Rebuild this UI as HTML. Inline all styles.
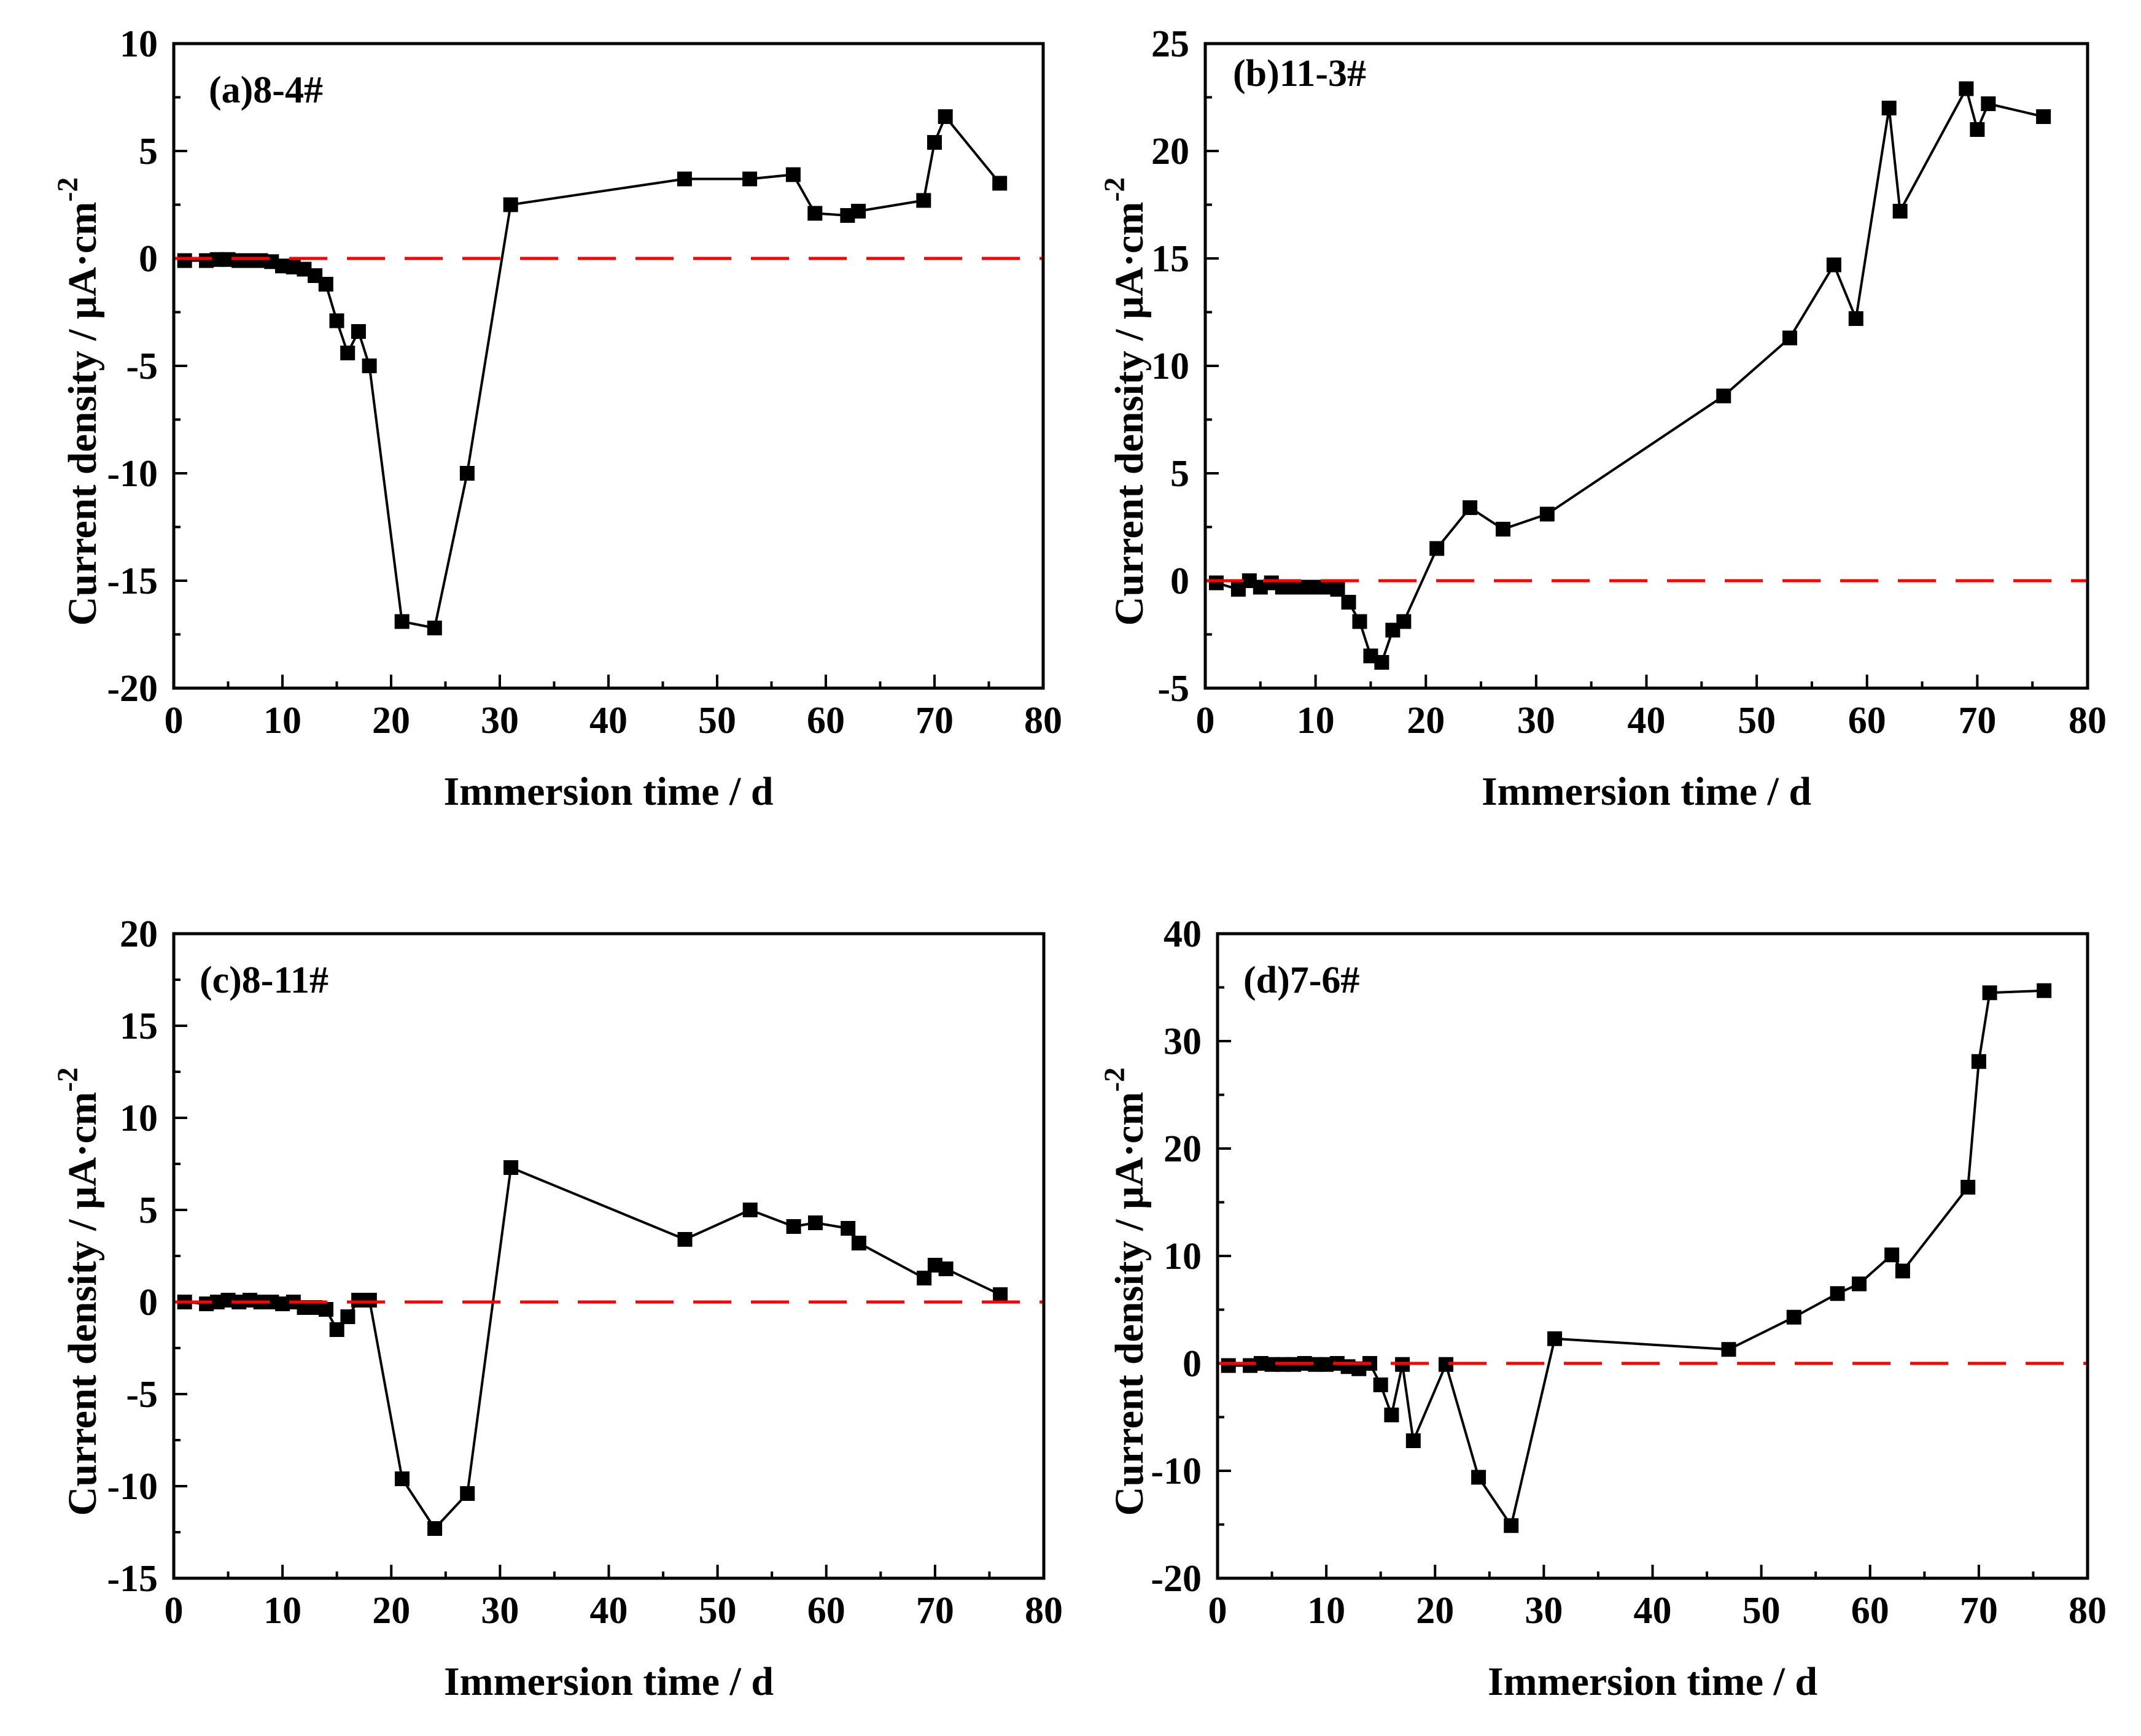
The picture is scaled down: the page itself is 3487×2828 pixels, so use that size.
<!DOCTYPE html>
<html><head><meta charset="utf-8">
<style>
html,body{margin:0;padding:0;background:#fff;}
svg{display:block;}
text{font-family:"Liberation Serif","Times New Roman",serif;font-weight:bold;fill:#000;}
</style></head>
<body>
<svg id="fig" width="3487" height="2828" viewBox="0 0 3487 2828" xmlns="http://www.w3.org/2000/svg">
<rect width="3487" height="2828" fill="#fff"/>
</svg>
<script>
const days = [1,3,4,5,6,7,8,9,10,11,12,13,14,15,16,17,18,21,24,27,31,47,53,57,59,62,63,69,70,71,76];
const seriesA = [-0.1,-0.1,-0.05,-0.05,-0.1,-0.1,-0.1,-0.15,-0.35,-0.4,-0.5,-0.8,-1.2,-2.9,-4.4,-3.4,-5.0,-16.9,-17.2,-10,2.5,3.7,3.7,3.9,2.1,2.0,2.2,2.7,5.4,6.6,3.5];
const seriesB = [-0.1,-0.4,0.0,-0.3,-0.1,-0.3,-0.3,-0.3,-0.3,-0.3,-0.4,-1.0,-1.9,-3.5,-3.8,-2.3,-1.9,1.5,3.4,2.4,3.1,8.6,11.3,14.7,12.2,22.0,17.2,22.9,21.0,22.2,21.6];
const seriesC = [0,-0.1,0,0.1,0,0.1,0,0,-0.1,0,-0.3,-0.3,-0.4,-1.5,-0.8,0.1,0.1,-9.6,-12.3,-10.4,7.3,3.4,5.0,4.1,4.3,4.0,3.2,1.3,2.0,1.8,0.4];
const seriesD = [-0.2,-0.2,0,-0.1,-0.1,-0.1,0,-0.1,-0.1,0,-0.3,-0.5,0,-2,-4.8,-0.1,-7.2,-0.1,-10.6,-15.1,2.3,1.3,4.3,6.5,7.4,10.1,8.6,16.4,28.1,34.5,34.7];
const xTicks = [0,10,20,30,40,50,60,70,80];
const yTicksA = [-20,-15,-10,-5,0,5,10];
const yTicksB = [-5,0,5,10,15,20,25];
const yTicksC = [-15,-10,-5,0,5,10,15,20];
const yTicksD = [-20,-10,0,10,20,30,40];
const labels = ["(a)8-4#","(b)11-3#","(c)8-11#","(d)7-6#"];

const panels = [
 {id:'a', L:283, R:1699, T:71, B:1121, ymin:-20, ymax:10, ticks:yTicksA, data:seriesA, label:labels[0], ytx:134, lx:340, ly:167},
 {id:'b', L:1963, R:3400, T:71, B:1121, ymin:-5, ymax:25, ticks:yTicksB, data:seriesB, label:labels[1], ytx:1839, lx:2008, ly:140},
 {id:'c', L:283, R:1700, T:1521, B:2571, ymin:-15, ymax:20, ticks:yTicksC, data:seriesC, label:labels[2], ytx:134, lx:325, ly:1617},
 {id:'d', L:1983, R:3400, T:1521, B:2571, ymin:-20, ymax:40, ticks:yTicksD, data:seriesD, label:labels[3], ytx:1839, lx:2025, ly:1617}
];
const NS='http://www.w3.org/2000/svg';
const svg=document.getElementById('fig');
function mk(tag, attrs, parent){const e=document.createElementNS(NS,tag);for(const k in attrs)e.setAttribute(k,attrs[k]);parent.appendChild(e);return e;}

panels.forEach(p=>{
 const g=mk('g',{},svg);
 
 
 const xs=v=>p.L+(v-0)/(80-0)*(p.R-p.L);
 const ys=v=>p.B-(v-p.ymin)/(p.ymax-p.ymin)*(p.B-p.T);
 xTicks.forEach((t,i)=>{
  const tk=mk('line',{x1:xs(t),x2:xs(t),y1:p.B,y2:p.B-22,stroke:'#000','stroke-width':4},g);
  
  
  if(i<xTicks.length-1){
   const m=(t+xTicks[i+1])/2;
   const mt=mk('line',{x1:xs(m),x2:xs(m),y1:p.B,y2:p.B-11,stroke:'#000','stroke-width':4},g);
   
   
  }
  const tl=mk('text',{x:xs(t),y:p.B+73,'font-size':62,'text-anchor':'middle'},g);
  tl.textContent=t;
  
  
 });
 p.ticks.forEach((t,i)=>{
  const tk=mk('line',{x1:p.L,x2:p.L+22,y1:ys(t),y2:ys(t),stroke:'#000','stroke-width':4},g);
  
  
  if(i<p.ticks.length-1){
   const m=(t+p.ticks[i+1])/2;
   const mt=mk('line',{x1:p.L,x2:p.L+11,y1:ys(m),y2:ys(m),stroke:'#000','stroke-width':4},g);
   
   
  }
  const tl=mk('text',{x:p.L-26,y:ys(t)+21,'font-size':62,'text-anchor':'end'},g);
  tl.textContent=t;
  
  
 });
 const pts=days.map((d,i)=>xs(d)+','+ys(p.data[i])).join(' ');
 const pl=mk('polyline',{points:pts,fill:'none',stroke:'#000','stroke-width':4},g);
 
 
 days.forEach((d,i)=>{
  const r=mk('rect',{x:xs(d)-12,y:ys(p.data[i])-12,width:24,height:24,fill:'#000'},g);
  
  
 });
 const z=mk('line',{x1:p.L,x2:p.R,y1:ys(0),y2:ys(0),stroke:'#ff0000','stroke-width':5,'stroke-dasharray':'62 32'},g);
 
 
 const fr=mk('rect',{x:p.L,y:p.T,width:p.R-p.L,height:p.B-p.T,fill:'none',stroke:'#000','stroke-width':5},g);
 
 
 const lb=mk('text',{x:p.lx,y:p.ly,'font-size':62},g);
 lb.textContent=p.label;
 
 
 const xt=mk('text',{x:(p.L+p.R)/2,y:p.B+190,'font-size':66,'text-anchor':'middle'},g);
 xt.textContent='Immersion time / d';
 
 
 const cy=(p.T+p.B)/2+58;
 const yt=mk('text',{x:0,y:0,'font-size':66,'text-anchor':'middle',transform:'translate('+(p.ytx+22)+','+cy+') rotate(-90)'},g);
 
 
 yt.appendChild(document.createTextNode('Current density / μA·cm'));
 const sup=mk('tspan',{dy:-30,'font-size':48},yt);
 sup.textContent='-2';
});
</script>
</body></html>
